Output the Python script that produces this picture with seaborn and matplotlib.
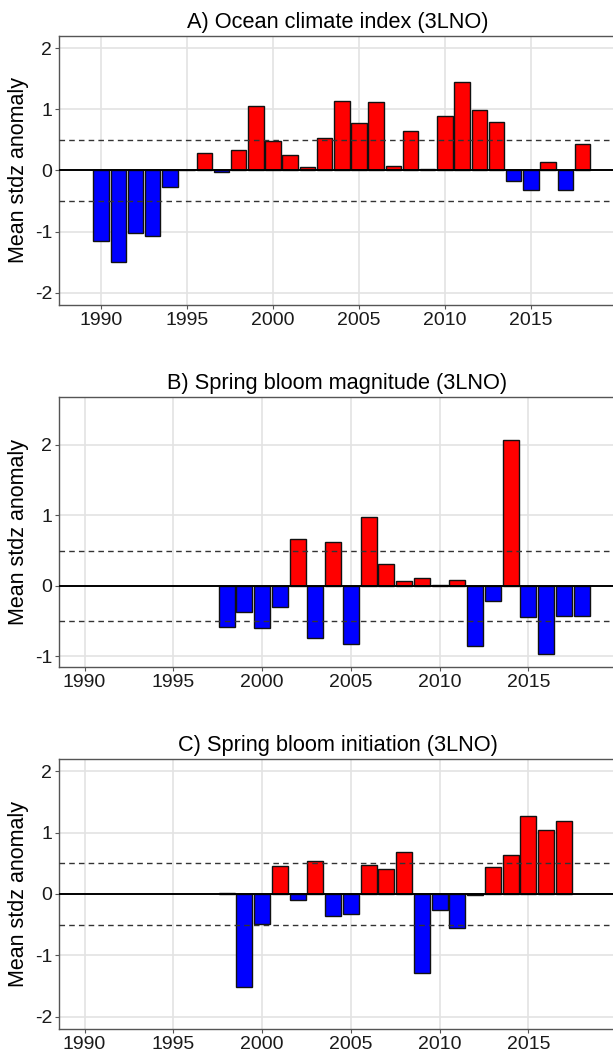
import matplotlib
matplotlib.use("Agg")
import matplotlib.pyplot as plt
import seaborn as sns
import pandas as pd
import numpy as np

# ---- data ----
years_a = list(range(1990, 2019))
ocean_climate = [-1.15, -1.50, -1.02, -1.07, -0.27, 0.00, 0.29, -0.02, 0.33, 1.05,
                 0.48, 0.26, 0.05, 0.53, 1.14, 0.77, 1.12, 0.08, 0.64, 0.02,
                 0.89, 1.45, 0.99, 0.79, -0.17, -0.32, 0.14, -0.32, 0.44]

years_b = list(range(1998, 2019))
bloom_magnitude = [-0.58, -0.37, -0.59, -0.30, 0.66, -0.74, 0.63, -0.82, 0.98, 0.31,
                   0.07, 0.11, 0.01, 0.08, -0.85, -0.21, 2.07, -0.44, -0.96, -0.42, -0.43]

years_c = list(range(1998, 2018))
bloom_initiation = [0.01, -1.52, -0.49, 0.46, -0.09, 0.53, -0.36, -0.33, 0.47, 0.41,
                    0.69, -1.29, -0.26, -0.56, -0.02, 0.44, 0.64, 1.27, 1.04, 1.19]

titles = ["A) Ocean climate index (3LNO)",
          "B) Spring bloom magnitude (3LNO)",
          "C) Spring bloom initiation (3LNO)"]
ylabel = "Mean stdz anomaly"
xticks = [1990, 1995, 2000, 2005, 2010, 2015]

sns.set_theme(style="white")
plt.rcParams['font.family'] = ['Liberation Sans', 'DejaVu Sans']

W, H = 613, 1053
fig = plt.figure(figsize=(W / 100, H / 100), dpi=100)

panels = [
    dict(years=years_a, vals=ocean_climate, top=36, bot=305, xlim=(1987.55, 2019.95),
         ylim=(-2.2, 2.2), yticks=[-2, -1, 0, 1, 2]),
    dict(years=years_b, vals=bloom_magnitude, top=397, bot=667, xlim=(1988.56, 2019.94),
         ylim=(-1.15, 2.68), yticks=[-1, 0, 1, 2]),
    dict(years=years_c, vals=bloom_initiation, top=759, bot=1029, xlim=(1988.56, 2019.94),
         ylim=(-2.2, 2.2), yticks=[-2, -1, 0, 1, 2]),
]

left_px, right_px = 59, 616
pal = {"pos": "#FF0000", "neg": "#0000FF"}

for p, title in zip(panels, titles):
    ax = fig.add_axes([left_px / W, (H - p["bot"]) / H,
                       (right_px - left_px) / W, (p["bot"] - p["top"]) / H])
    df = pd.DataFrame({"year": p["years"], "value": p["vals"]})
    df["sign"] = np.where(df["value"] >= 0, "pos", "neg")
    ax.set_axisbelow(True)
    ax.grid(True, color="#E3E3E3", linewidth=1.2)
    sns.barplot(data=df, x="year", y="value", hue="sign", palette=pal,
                native_scale=True, dodge=False, width=0.9, edgecolor="#111111",
                linewidth=1.0, legend=False, saturation=1, ax=ax, zorder=2)
    ax.axhline(0, color="black", linewidth=1.4, zorder=3)
    for yv in (0.5, -0.5):
        ax.axhline(yv, color="#333333", linewidth=1.0, linestyle=(0, (4, 3)), zorder=3)
    ax.set_xlim(*p["xlim"])
    ax.set_ylim(*p["ylim"])
    ax.set_xticks(xticks)
    ax.set_xticklabels([str(x) for x in xticks])
    ax.set_yticks(p["yticks"])
    ax.set_yticklabels([str(v) for v in p["yticks"]])
    ax.tick_params(axis="both", which="major", length=3, width=0.8, color="#555555",
                   direction="out", bottom=True, left=True, pad=2)
    ax.tick_params(axis="x", labelsize=14)
    ax.tick_params(axis="y", labelsize=14)
    for lbl in ax.get_xticklabels() + ax.get_yticklabels():
        lbl.set_color("#1a1a1a")
    ax.set_xlabel("")
    ax.set_ylabel(ylabel, fontsize=15.5, color="black", labelpad=4)
    ax.set_title(title, fontsize=15.7, pad=6, color="black")
    for s in ax.spines.values():
        s.set_color("#555555")
        s.set_linewidth(1.0)
        s.set_visible(True)

fig.savefig("out.png", dpi=100)
